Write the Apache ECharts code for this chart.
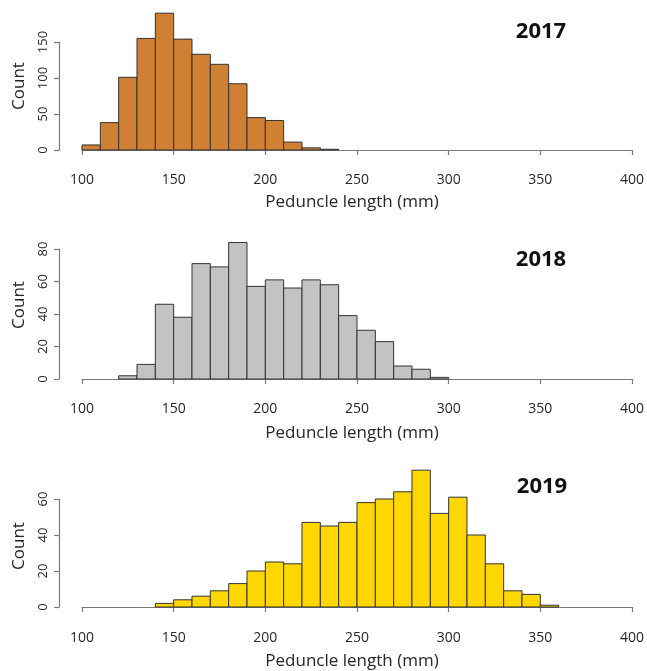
<!DOCTYPE html>
<html>
<head>
<meta charset="utf-8">
<script src="https://cdn.jsdelivr.net/npm/echarts@6/dist/echarts.min.js"></script>
<style>
html,body{margin:0;padding:0;background:#fff;}
#chart{width:647px;height:671px;}
</style>
</head>
<body>
<div id="chart"></div>
<script>
// ---- data ----
const years = ['2017', '2018', '2019'];
const xTicks = [100, 150, 200, 250, 300, 350, 400];
const edges2017 = [100, 110, 120, 130, 140, 150, 160, 170, 180, 190, 200, 210, 220, 230, 240];
const counts2017 = [7, 38, 101, 155, 190, 154, 133, 119, 92, 45, 41, 11, 3, 1];
const edges2018 = [120, 130, 140, 150, 160, 170, 180, 190, 200, 210, 220, 230, 240, 250, 260, 270, 280, 290, 300];
const counts2018 = [2, 9, 46, 38, 71, 69, 84, 57, 61, 56, 61, 58, 39, 30, 23, 8, 6, 1];
const edges2019 = [140, 150, 160, 170, 180, 190, 200, 210, 220, 230, 240, 250, 260, 270, 280, 290, 300, 310, 320, 330, 340, 350, 360];
const counts2019 = [2, 4, 6, 9, 13, 20, 25, 24, 47, 45, 47, 58, 60, 64, 76, 52, 61, 40, 24, 9, 7, 1];
const yTicks2017 = [0, 50, 100, 150];
const yTicks2018 = [0, 20, 40, 60, 80];
const yTicks2019 = [0, 20, 40, 60];
const xTitle = 'Peduncle length (mm)';
const yTitle = 'Count';

// ---- layout / style ----
const panels = [
  {edges: edges2017, counts: counts2017, yTicks: yTicks2017, color: '#D08033', top: 42, height: 108, xOff: 5},
  {edges: edges2018, counts: counts2018, yTicks: yTicks2018, color: '#C3C3C3', top: 249, height: 130, xOff: 5},
  {edges: edges2019, counts: counts2019, yTicks: yTicks2019, color: '#FFD700', top: 499, height: 108, xOff: 6}
];
const yearPos = [[541, 32], [541, 260], [542, 487]];
const xTitleY = [202, 433, 661];
const yTitleY = [86, 305, 546];
const FONT = '"Open Sans", "Liberation Sans", sans-serif';
const axisColor = '#7a7a7a';
const textColor = '#262626';

const grids = [], xAxes = [], yAxes = [], series = [], graphics = [];
panels.forEach((p, i) => {
  grids.push({left: 82, right: 11, top: p.top, height: p.height, containLabel: false});
  xAxes.push({
    type: 'value', gridIndex: i, min: xTicks[0], max: xTicks[xTicks.length - 1],
    interval: xTicks[1] - xTicks[0], offset: p.xOff,
    axisLine: {show: true, lineStyle: {color: axisColor, width: 1.2}},
    axisTick: {show: true, length: 5, lineStyle: {color: axisColor, width: 1.2}},
    axisLabel: {color: textColor, fontFamily: FONT, fontSize: 14, margin: 18},
    splitLine: {show: false}
  });
  const yt = p.yTicks;
  yAxes.push({
    type: 'value', gridIndex: i, min: yt[0], max: yt[yt.length - 1],
    interval: yt[1] - yt[0], offset: 23,
    axisLine: {show: true, lineStyle: {color: axisColor, width: 1.2}},
    axisTick: {show: true, length: 5, lineStyle: {color: axisColor, width: 1.2}},
    axisLabel: {color: textColor, fontFamily: FONT, fontSize: 13, rotate: 90, margin: 9},
    splitLine: {show: false}
  });
  const data = p.counts.map((c, k) => [p.edges[k], p.edges[k + 1], c]);
  series.push({
    type: 'custom', xAxisIndex: i, yAxisIndex: i, clip: false,
    encode: {x: [0, 1], y: 2},
    data: data,
    renderItem: (params, api) => {
      const a = api.coord([api.value(0), api.value(2)]);
      const b = api.coord([api.value(1), 0]);
      return {
        type: 'rect',
        shape: {x: a[0], y: a[1], width: b[0] - a[0], height: b[1] - a[1]},
        style: {fill: p.color, stroke: '#333333', lineWidth: 1}
      };
    }
  });
  graphics.push({
    type: 'text', x: yearPos[i][0], y: yearPos[i][1],
    style: {text: years[i], font: 'bold 22px ' + FONT, fill: '#111', textAlign: 'center', textVerticalAlign: 'middle'}
  });
  graphics.push({
    type: 'text', x: 352, y: xTitleY[i],
    style: {text: xTitle, font: '17px ' + FONT, fill: textColor, textAlign: 'center', textVerticalAlign: 'middle'}
  });
  graphics.push({
    type: 'text', x: 19, y: yTitleY[i], rotation: Math.PI / 2,
    style: {text: yTitle, font: '17px ' + FONT, fill: textColor, textAlign: 'center', textVerticalAlign: 'middle'}
  });
});

const chart = echarts.init(document.getElementById('chart'), null, {renderer: 'canvas'});
chart.setOption({
  animation: false,
  backgroundColor: '#fff',
  grid: grids, xAxis: xAxes, yAxis: yAxes, series: series, graphic: graphics
});
</script>
</body>
</html>
